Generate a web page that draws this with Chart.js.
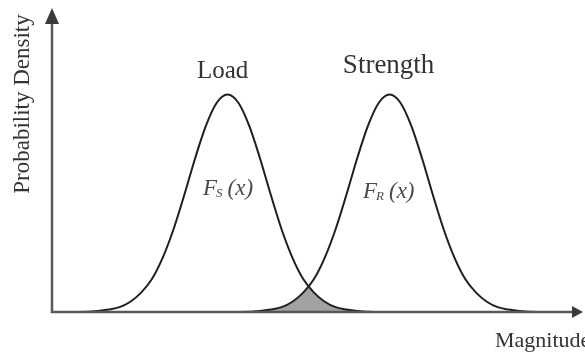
<!DOCTYPE html>
<html>
<head>
<meta charset="utf-8">
<script src="https://cdn.jsdelivr.net/npm/chart.js@4.4.1/dist/chart.umd.min.js"></script>
<style>
  html, body { margin: 0; padding: 0; background: #fff; }
  #myChart { display: block; }
</style>
</head>
<body>
<canvas id="myChart" width="585" height="354"></canvas>
<script>
// magnitude positions and densities for the two distributions
var loadX = [0.5, 0.7, 0.9, 1.1, 1.3, 1.5, 1.7, 1.9, 2.1, 2.3, 2.5, 2.7, 2.9, 3.1, 3.3,
             3.5, 3.7, 3.9, 4.1, 4.3, 4.5, 4.7, 4.9, 5.1, 5.3, 5.5, 5.7, 5.9, 6.1];
var loadY = [0.000, 0.001, 0.003, 0.008, 0.016, 0.034, 0.064, 0.109, 0.180, 0.274, 0.388, 0.509, 0.617, 0.693, 0.720,
             0.693, 0.617, 0.509, 0.388, 0.274, 0.180, 0.109, 0.064, 0.034, 0.016, 0.008, 0.003, 0.001, 0.000];

var strengthX = [3.5, 3.7, 3.9, 4.1, 4.3, 4.5, 4.7, 4.9, 5.1, 5.3, 5.5, 5.7, 5.9, 6.1, 6.3,
                 6.5, 6.7, 6.9, 7.1, 7.3, 7.5, 7.7, 7.9, 8.1, 8.3, 8.5, 8.7, 8.9, 9.1];
var strengthY = [0.000, 0.001, 0.003, 0.008, 0.016, 0.034, 0.064, 0.109, 0.180, 0.274, 0.388, 0.509, 0.617, 0.693, 0.720,
                 0.693, 0.617, 0.509, 0.388, 0.274, 0.180, 0.109, 0.064, 0.034, 0.016, 0.008, 0.003, 0.001, 0.000];

// interference region (where both curves overlap)
var overlapX = [3.5, 3.7, 3.9, 4.1, 4.3, 4.5, 4.7, 4.8, 4.9, 5.1, 5.3, 5.5, 5.7, 5.9, 6.1];
var overlapY = [0.000, 0.001, 0.003, 0.008, 0.016, 0.034, 0.064, 0.080, 0.064, 0.034, 0.016, 0.008, 0.003, 0.001, 0.000];

var loadMean = 3.3;
var strengthMean = 6.3;

function pts(xs, ys) {
    return xs.map(function (x, i) { return { x: x, y: ys[i] }; });
}

var serif = '"Liberation Serif", "DejaVu Serif", serif';

// axes with arrows and all the text labels
var sketchPlugin = {
    id: 'sketch',
    afterDatasetsDraw: function (chart) {
        var c = chart.ctx;
        var a = chart.chartArea;
        var xs = chart.scales.x;
        c.save();

        // axes
        c.strokeStyle = '#585858';
        c.fillStyle = '#3a3a3a';
        c.lineWidth = 2.5;
        c.beginPath();
        c.moveTo(a.left, a.top + 10);
        c.lineTo(a.left, a.bottom);
        c.lineTo(a.right - 6, a.bottom);
        c.stroke();

        c.beginPath();
        c.moveTo(a.left, a.top - 2);
        c.lineTo(a.left - 7, a.top + 14);
        c.lineTo(a.left + 7, a.top + 14);
        c.closePath();
        c.fill();

        c.beginPath();
        c.moveTo(a.right, a.bottom);
        c.lineTo(a.right - 11, a.bottom - 6);
        c.lineTo(a.right - 11, a.bottom + 6);
        c.closePath();
        c.fill();

        // titles over the peaks
        c.fillStyle = '#333';
        c.textBaseline = 'alphabetic';
        c.textAlign = 'center';
        c.font = '25px ' + serif;
        c.fillText('Load', xs.getPixelForValue(loadMean) - 5, 78);
        c.font = '27px ' + serif;
        c.fillText('Strength', xs.getPixelForValue(strengthMean) - 1, 73);

        // density labels
        c.fillStyle = '#4a4a4a';
        c.textAlign = 'left';
        var lbl = function (x, y, sub) {
            c.font = 'italic 23px ' + serif;
            c.fillText('F', x, y);
            var w = c.measureText('F').width;
            c.font = 'italic 13px ' + serif;
            c.fillText(sub, x + w - 1, y + 2);
            var w2 = c.measureText(sub).width;
            c.font = 'italic 23px ' + serif;
            c.fillText('(x)', x + w + w2 + 4, y);
        };
        lbl(203, 195, 'S');
        lbl(363, 198, 'R');

        // axis titles
        c.fillStyle = '#333';
        c.font = '22px ' + serif;
        c.fillText('Magnitude', 495, 347);

        c.translate(29, 104);
        c.rotate(-Math.PI / 2);
        c.textAlign = 'center';
        c.font = '23px ' + serif;
        c.fillText('Probability Density', 0, 0);

        c.restore();
    }
};

var ctx = document.getElementById('myChart');
var myChart = new Chart(ctx, {
    type: 'line',
    data: {
        datasets: [{
            label: 'Interference',
            data: pts(overlapX, overlapY),
            fill: 'origin',
            backgroundColor: '#a2a2a2',
            borderWidth: 0,
            pointRadius: 0,
            tension: 0,
            order: 2
        }, {
            label: 'Load',
            data: pts(loadX, loadY),
            borderColor: '#1f1f1f',
            borderWidth: 2,
            pointRadius: 0,
            fill: false,
            cubicInterpolationMode: 'monotone',
            order: 1
        }, {
            label: 'Strength',
            data: pts(strengthX, strengthY),
            borderColor: '#1f1f1f',
            borderWidth: 2,
            pointRadius: 0,
            fill: false,
            cubicInterpolationMode: 'monotone',
            order: 1
        }]
    },
    options: {
        responsive: false,
        animation: false,
        layout: {
            padding: { left: 52, right: 2, top: 10, bottom: 42 }
        },
        plugins: {
            legend: { display: false },
            tooltip: { enabled: false }
        },
        scales: {
            x: { type: 'linear', min: 0.05, max: 9.88, display: false },
            y: { min: 0, max: 1, display: false }
        }
    },
    plugins: [sketchPlugin]
});
</script>
</body>
</html>
